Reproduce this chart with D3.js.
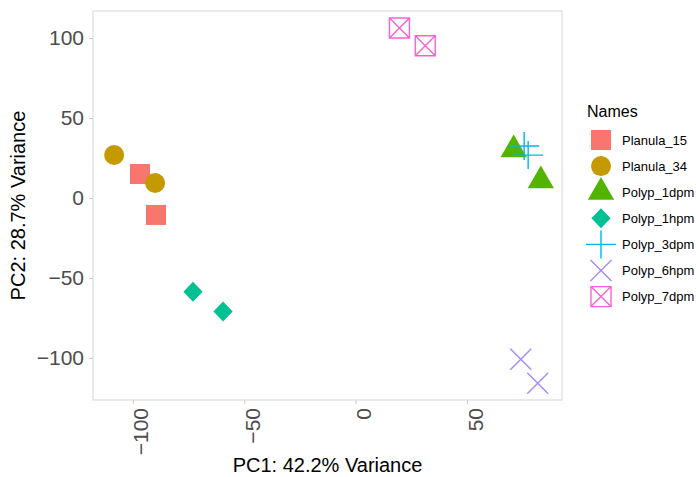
<!DOCTYPE html>
<html>
<head>
<meta charset="utf-8">
<script src="https://cdn.jsdelivr.net/npm/d3@7"></script>
<style>
  body { margin: 0; background: #fff; }
  text { font-family: "Liberation Sans", Arial, sans-serif; }
</style>
</head>
<body>
<script>
// sample groups, in legend order
const names = ['Planula_15', 'Planula_34', 'Polyp_1dpm', 'Polyp_1hpm',
               'Polyp_3dpm', 'Polyp_6hpm', 'Polyp_7dpm'];
const colors = ['#F8766D', '#C49A00', '#53B400', '#00C094',
                '#00B6EB', '#A58AFF', '#FB61D7'];
const shapes = ['square', 'circle', 'triangle', 'diamond', 'plus', 'cross', 'boxcross'];

// PCA coordinates, two replicates per group
const sampleGroup = ['Planula_15', 'Planula_15', 'Planula_34', 'Planula_34',
                     'Polyp_1dpm', 'Polyp_1dpm', 'Polyp_1hpm', 'Polyp_1hpm',
                     'Polyp_3dpm', 'Polyp_3dpm', 'Polyp_6hpm', 'Polyp_6hpm',
                     'Polyp_7dpm', 'Polyp_7dpm'];
const pc1 = [-96.8, -89.6, -108.4, -90.0, 71.0, 83.2, -73.0, -59.5,
             75.7, 77.5, 74.2, 81.8, 19.7, 31.3];
const pc2 = [15.0, -10.6, 26.9, 9.4, 30.2, 10.8, -58.7, -71.0,
             32.5, 26.8, -100.8, -115.8, 106.3, 95.2];

const xTicks = [-100, -50, 0, 50];
const yTicks = [-100, -50, 0, 50, 100];

const width = 696, height = 477;
const panel = { left: 93, right: 562, top: 11, bottom: 400 };

const svg = d3.select('body').append('svg')
    .attr('width', width)
    .attr('height', height);

const x = d3.scaleLinear()
    .domain([-117.9, 92.7])
    .range([panel.left, panel.right]);
const y = d3.scaleLinear()
    .domain([-126.3, 116.9])
    .range([panel.bottom, panel.top]);

const color = d3.scaleOrdinal().domain(names).range(colors);
const shape = d3.scaleOrdinal().domain(names).range(shapes);

// path strings for the R-like point shapes, centred on 0,0
const shapePath = s => {
  switch (s) {
    case 'square': return 'M-10,-10H10V10H-10Z';
    case 'circle': return d3.arc()({ innerRadius: 0, outerRadius: 10, startAngle: 0, endAngle: 2 * Math.PI });
    case 'triangle': {
      const r = 15.2, hw = r * Math.sqrt(3) / 2;
      return `M0,${-r}L${hw},${r / 2}L${-hw},${r / 2}Z`;
    }
    case 'diamond': return 'M0,-10L9.6,0L0,10L-9.6,0Z';
    case 'plus': return 'M-15,0H15M0,-14V14';
    case 'cross': return 'M-10.5,-10.5L10.5,10.5M-10.5,10.5L10.5,-10.5';
    case 'boxcross': return 'M-10,-10H10V10H-10ZM-10,-10L10,10M-10,10L10,-10';
  }
};
const filled = s => ['square', 'circle', 'triangle', 'diamond'].includes(s);

const drawShape = (sel, name) => {
  const s = shape(name);
  sel.append('path')
      .attr('d', shapePath(s))
      .attr('fill', filled(s) ? color(name) : 'none')
      .attr('stroke', filled(s) ? 'none' : color(name))
      .attr('stroke-width', 1.4);
};

// panel border
svg.append('rect')
    .attr('x', panel.left)
    .attr('y', panel.top)
    .attr('width', panel.right - panel.left)
    .attr('height', panel.bottom - panel.top)
    .attr('fill', 'none')
    .attr('stroke', '#d9d9d9')
    .attr('stroke-width', 1.1);

// x axis
const xAxis = svg.append('g')
    .attr('transform', `translate(0,${panel.bottom})`)
    .call(d3.axisBottom(x).tickValues(xTicks).tickSize(4).tickSizeOuter(0));
xAxis.select('.domain').remove();
xAxis.selectAll('.tick line').attr('stroke', '#c8c8c8');
xAxis.selectAll('.tick text')
    .attr('fill', '#4d4d4d')
    .style('font-size', '21px')
    .attr('text-anchor', 'end')
    .attr('transform', 'rotate(-90)')
    .attr('x', -8)
    .attr('y', 0)
    .attr('dy', '0.72em');

// y axis
const yAxis = svg.append('g')
    .attr('transform', `translate(${panel.left},0)`)
    .call(d3.axisLeft(y).tickValues(yTicks).tickSize(4).tickSizeOuter(0));
yAxis.select('.domain').remove();
yAxis.selectAll('.tick line').attr('stroke', '#c8c8c8');
yAxis.selectAll('.tick text')
    .attr('fill', '#4d4d4d')
    .style('font-size', '21px')
    .attr('x', -9);

// axis titles
svg.append('text')
    .attr('x', (panel.left + panel.right) / 2)
    .attr('y', 472)
    .attr('text-anchor', 'middle')
    .style('font-size', '20px')
    .text('PC1: 42.2% Variance');

svg.append('text')
    .attr('transform', `translate(25,${(panel.top + panel.bottom) / 2}) rotate(-90)`)
    .attr('text-anchor', 'middle')
    .style('font-size', '20px')
    .text('PC2: 28.7% Variance');

// points
const points = pc1.map((v, i) => ({ x: v, y: pc2[i], name: sampleGroup[i] }));
svg.append('g')
  .selectAll('g')
  .data(points)
  .enter()
  .append('g')
    .attr('transform', d => `translate(${x(d.x)},${y(d.y)})`)
    .each(function (d) { drawShape(d3.select(this), d.name); });

// legend
const legend = svg.append('g').attr('transform', 'translate(587,0)');
legend.append('text')
    .attr('x', 0)
    .attr('y', 117)
    .style('font-size', '16px')
    .text('Names');

const rows = legend.selectAll('.row')
  .data(names)
  .enter()
  .append('g')
    .attr('class', 'row')
    .attr('transform', (d, i) => `translate(14,${140 + i * 26.1})`);
rows.each(function (d) { drawShape(d3.select(this), d); });
rows.append('text')
    .attr('x', 21)
    .attr('dy', '0.35em')
    .style('font-size', '13px')
    .text(d => d);
</script>
</body>
</html>
